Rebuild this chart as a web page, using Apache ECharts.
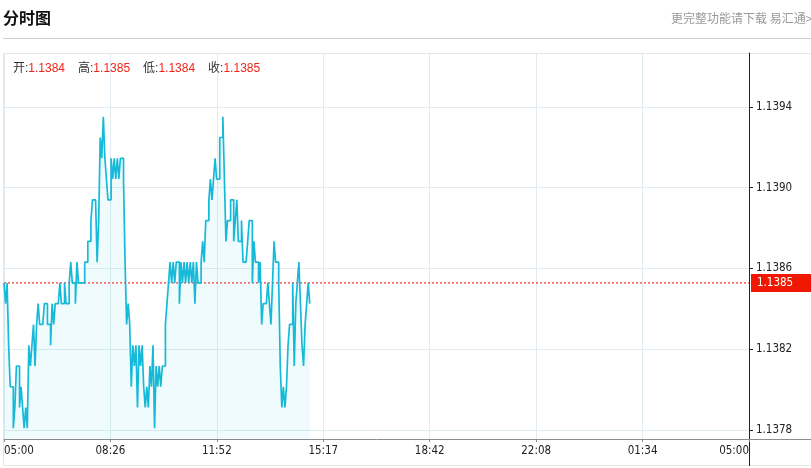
<!DOCTYPE html>
<html><head><meta charset="utf-8">
<script src="https://cdn.jsdelivr.net/npm/echarts@6/dist/echarts.min.js"></script>
<style>html,body{margin:0;padding:0;background:#fff}#c{width:811px;height:468px}</style>
</head><body><div id="c"></div>
<script>
const titleText = '分时图';
const promoText = '更完整功能请下载 易汇通>';
const ohlcNames = ['开', '高', '低', '收'];
const ohlcValues = ['1.1384', '1.1385', '1.1384', '1.1385'];
const lastClose = 1.1385;
const minuteStep = 3; // minutes between samples, starting 05:00
const prices = [
  1.1385,1.1384,1.1385,1.1382,1.1380,1.1380,1.1378,1.1379,1.1381,1.1381,
  1.1379,1.1380,1.1379,1.1378,1.1379,1.1378,1.1382,1.1381,1.1382,1.1383,
  1.1381,1.1383,1.1384,1.1383,1.1383,1.1383,1.1384,1.1384,1.1383,1.1383,
  1.1382,1.1384,1.1383,1.1384,1.1384,1.1384,1.1385,1.1384,1.1384,1.1385,
  1.1384,1.1384,1.1385,1.1386,1.1385,1.1385,1.1384,1.1386,1.1385,1.1385,
  1.1385,1.1385,1.1386,1.1386,1.1387,1.1387,1.1388,1.1389,1.1389,1.1389,
  1.1386,1.1388,1.1392,1.1391,1.1393,1.1391,1.1390,1.1389,1.1389,1.1391,
  1.1390,1.1391,1.1390,1.1391,1.1390,1.1391,1.1391,1.1390,1.1386,1.1383,
  1.1384,1.1383,1.1380,1.1382,1.1381,1.1382,1.1379,1.1382,1.1381,1.1382,
  1.1380,1.1379,1.1380,1.1379,1.1381,1.1380,1.1382,1.1378,1.1381,1.1380,
  1.1381,1.1380,1.1381,1.1381,1.1383,1.1384,1.1385,1.1386,1.1385,1.1386,
  1.1385,1.1386,1.1386,1.1384,1.1386,1.1385,1.1386,1.1385,1.1386,1.1385,
  1.1386,1.1385,1.1386,1.1384,1.1386,1.1385,1.1385,1.1386,1.1387,1.1386,
  1.1388,1.1388,1.1389,1.1390,1.1389,1.1390,1.1391,1.1390,1.1390,1.1392,
  1.1392,1.1393,1.1390,1.1387,1.1388,1.1388,1.1389,1.1389,1.1387,1.1388,
  1.1389,1.1387,1.1387,1.1388,1.1386,1.1386,1.1386,1.1387,1.1388,1.1388,
  1.1385,1.1387,1.1386,1.1386,1.1385,1.1386,1.1383,1.1384,1.1384,1.1384,
  1.1385,1.1384,1.1383,1.1385,1.1387,1.1386,1.1386,1.1385,1.1381,1.1379,
  1.1380,1.1379,1.1380,1.1382,1.1383,1.1383,1.1385,1.1381,1.1384,1.1385,
  1.1386,1.1384,1.1382,1.1381,1.1383,1.1384,1.1385,1.1384
];
const xTickValues = [0, 205.71, 411.43, 617.14, 822.86, 1028.57, 1234.29, 1440];
const xTickLabels = ['05:00', '08:26', '11:52', '15:17', '18:42', '22:08', '01:34', '05:00'];
const yMin = 1.1377485, yMax = 1.1396069;
const yTickValues = [1.1377918, 1.1381806, 1.1385694, 1.1389582, 1.139347];
const yTickLabels = ['1.1378', '1.1382', '1.1386', '1.1390', '1.1394'];

const nearest = (arr, v) => { let b = 0; for (let i = 1; i < arr.length; i++) if (Math.abs(arr[i] - v) < Math.abs(arr[b] - v)) b = i; return b; };
const seriesData = prices.map((p, i) => [i * minuteStep, p]);
const closeLineData = [[0, lastClose], [1440, lastClose]];
const numFont = "Tahoma, 'DejaVu Sans Condensed', 'Liberation Sans', sans-serif";
const cjkFont = "'Liberation Sans', 'Noto Sans CJK SC', sans-serif";
const gridColor = '#e0ecf2';

const chart = echarts.init(document.getElementById('c'), null, { renderer: 'canvas' });
chart.setOption({
  animation: false,
  backgroundColor: '#fff',
  grid: { left: 4, right: 62, top: 53, bottom: 29 },
  xAxis: {
    type: 'value', min: 0, max: 1440,
    axisLine: { show: true, onZero: false, lineStyle: { color: '#8c8c8c', width: 1 } },
    axisTick: { show: true, inside: false, length: 3, lineStyle: { color: '#8c8c8c' }, customValues: xTickValues },
    axisLabel: {
      customValues: xTickValues, color: '#222', fontSize: 11.5, fontFamily: numFont, margin: 6,
      alignMinLabel: 'left', alignMaxLabel: 'right',
      formatter: v => xTickLabels[nearest(xTickValues, v)]
    },
    splitLine: { show: true, lineStyle: { color: gridColor, width: 1 } }
  },
  yAxis: {
    type: 'value', position: 'right', min: yMin, max: yMax, scale: true,
    axisLine: { show: true, onZero: false, lineStyle: { color: '#222', width: 1 } },
    axisTick: { show: true, inside: false, length: 4, lineStyle: { color: '#222' }, customValues: yTickValues },
    axisLabel: {
      customValues: yTickValues, color: '#222', fontSize: 11.5, fontFamily: numFont, margin: 7,
      formatter: v => yTickLabels[nearest(yTickValues, v)]
    },
    splitLine: { show: true, lineStyle: { color: gridColor, width: 1 } }
  },
  series: [{
    type: 'line',
    name: 'close',
    data: closeLineData,
    z: 1,
    silent: true,
    showSymbol: false,
    symbol: 'none',
    lineStyle: { color: '#f00', type: [2, 2], width: 1 },
    endLabel: {
      show: true, distance: 2,
      formatter: () => lastClose.toFixed(4),
      color: '#fff', backgroundColor: '#f01800',
      padding: [3, 24, 3, 6], fontSize: 11.5, fontFamily: numFont
    }
  }, {
    type: 'line',
    name: 'price',
    data: seriesData,
    z: 2,
    step: 'end',
    showSymbol: false,
    symbol: 'none',
    lineStyle: { color: '#16bad8', width: 1.7 },
    itemStyle: { color: '#16bad8' },
    areaStyle: { color: 'rgba(22,186,216,0.09)', origin: 'start' }
  }],
  graphic: [
    { type: 'rect', silent: true, z: -10, shape: { x: 3.5, y: 53.5, width: 820, height: 412 },
      style: { fill: 'none', stroke: '#e6e6e6', lineWidth: 1 } },
    { type: 'line', silent: true, shape: { x1: 3, y1: 38.5, x2: 811, y2: 38.5 },
      style: { stroke: '#cfcfcf', lineWidth: 1.2 } },
    { type: 'line', silent: true, shape: { x1: 749, y1: 439.5, x2: 811, y2: 439.5 },
      style: { stroke: '#8c8c8c', lineWidth: 1 } },
    { type: 'line', silent: true, shape: { x1: 749.5, y1: 439, x2: 749.5, y2: 466 },
      style: { stroke: '#222', lineWidth: 1 } },
    { type: 'text', silent: true, x: 3, y: 18,
      style: { text: titleText, fill: '#111', fontSize: 16, fontWeight: 'bold',
        fontFamily: "'Noto Sans CJK SC', sans-serif", verticalAlign: 'middle', align: 'left' } },
    { type: 'text', silent: true, x: 671, y: 18.5,
      style: { text: promoText, fill: '#999', fontSize: 12,
        fontFamily: "'Noto Sans CJK SC', sans-serif", verticalAlign: 'middle', align: 'left' } },
    { type: 'text', silent: true, x: 13, y: 68.5, z: 100,
      style: {
        text: ohlcNames.map((n, i) => `{k|${n}:}{v|${ohlcValues[i]}}`).join('{g|}'),
        verticalAlign: 'middle', align: 'left',
        rich: {
          k: { fill: '#333', fontSize: 12, fontFamily: cjkFont },
          v: { fill: '#f5221b', fontSize: 12, fontFamily: cjkFont },
          g: { width: 13 }
        }
      } }
  ]
});
</script></body></html>
